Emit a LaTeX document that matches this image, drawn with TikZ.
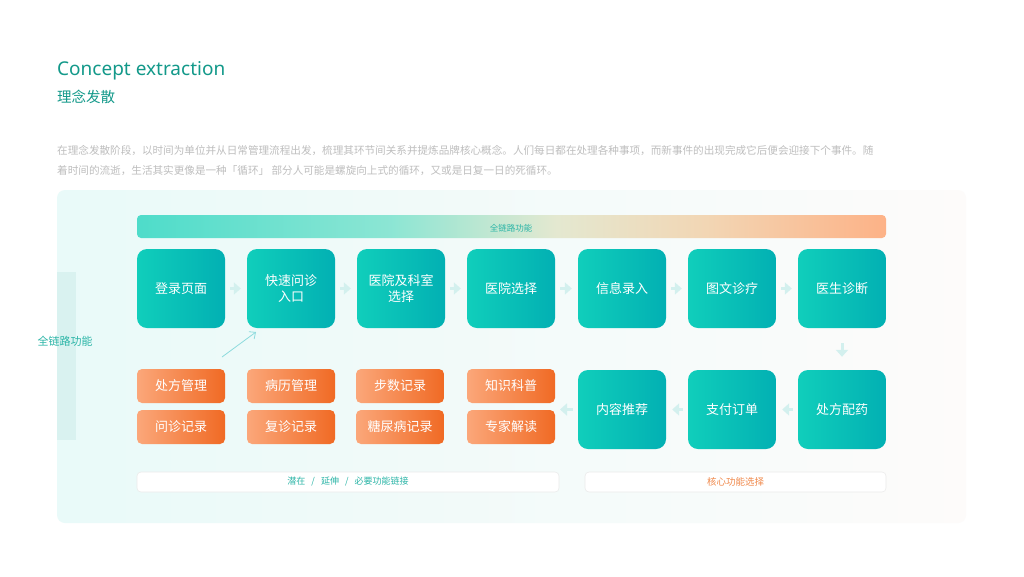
\documentclass[tikz,border=0pt]{standalone}
\usepackage{fontspec}
\setmainfont{Noto Sans CJK SC}
\newfontfamily\latinfont{Noto Sans}
\usetikzlibrary{arrows.meta,positioning,calc}
\definecolor{cteal}{RGB}{19,153,138}
\definecolor{tealL}{RGB}{16,206,187}
\definecolor{tealR}{RGB}{2,176,179}
\definecolor{orgL}{RGB}{251,167,122}
\definecolor{orgR}{RGB}{240,106,36}
\definecolor{panelL}{RGB}{233,250,249}
\definecolor{panelR}{RGB}{253,251,250}
\definecolor{cgray}{RGB}{190,190,190}
\definecolor{cchev}{RGB}{200,236,234}
\definecolor{cnote}{RGB}{43,181,167}
\definecolor{corg}{RGB}{240,136,74}
\pgfdeclarehorizontalshading{barshade}{100bp}{rgb(0bp)=(0.306,0.863,0.792); rgb(25bp)=(0.306,0.863,0.792);
  rgb(42bp)=(0.55,0.90,0.83); rgb(53bp)=(0.894,0.910,0.816); rgb(63bp)=(0.949,0.839,0.706);
  rgb(75bp)=(0.992,0.698,0.529); rgb(100bp)=(0.992,0.698,0.529)}

\begin{document}
\begin{tikzpicture}[x=1pt,y=-1pt,
    stage/.style={rounded corners=10pt, left color=tealL, right color=tealR,
      minimum width=88pt, minimum height=79pt, inner sep=0pt, align=center,
      text=white, font=\fontsize{13}{16}\selectfont},
    tag/.style={rounded corners=5pt, left color=orgL, right color=orgR,
      minimum width=88pt, minimum height=34pt, inner sep=0pt,
      text=white, font=\fontsize{13}{16}\selectfont},
    note/.style={rounded corners=4pt, fill=white, draw=black!8, line width=0.6pt,
      minimum height=20pt, inner sep=0pt},
    flow/.style={draw=cchev!80, line width=3pt, shorten <=5pt, shorten >=6pt,
      -{Triangle[width=12pt,length=7pt]}}]
    \useasboundingbox[fill=white] (0,0) rectangle (1024,576);
    % heading
    \node[anchor=base west, inner sep=0pt, text=cteal, font=\latinfont\fontsize{19}{22}\selectfont]
      (title) at (57,75) {Concept extraction};
    \node[anchor=base west, inner sep=0pt, text=cteal, font=\fontsize{14.5}{17}\selectfont]
      (subtitle) at (57,102) {理念发散};
    \node[anchor=north west, inner sep=0pt, align=left, text=cgray, font=\fontsize{10.6}{20}\selectfont]
      (intro) at (57,145) {在理念发散阶段，以时间为单位并从日常管理流程出发，梳理其环节间关系并提炼品牌核心概念。人们每日都在处理各种事项，而新事件的出现完成它后便会迎接下个事件。随\\
      着时间的流逝，生活其实更像是一种「循环」 部分人可能是螺旋向上式的循环，又或是日复一日的死循环。};

    % panel
    \shade[rounded corners=8pt, left color=panelL, right color=panelR] (57,190) rectangle (966,523);
    \fill[fill=cchev!70] (57,272) rectangle (76,440);
    \node[text=cnote, font=\fontsize{11}{13}\selectfont] (side) at (65,341) {全链路功能};

    % top bar
    \shade[rounded corners=4pt, shading=barshade] (137,215) rectangle (886,238);
    \node[text=cnote, font=\fontsize{8.5}{10}\selectfont] (bar) at (511,228) {全链路功能};

    % main flow
    \node[stage] (login) at (181,288.5) {登录页面};
    \node[stage] (quick) at (291,288.5) {快速问诊\\入口};
    \node[stage] (dept) at (401,288.5) {医院及科室\\选择};
    \node[stage] (hosp) at (511,288.5) {医院选择};
    \node[stage] (info) at (622,288.5) {信息录入};
    \node[stage] (consult) at (732,288.5) {图文诊疗};
    \node[stage] (diag) at (842,288.5) {医生诊断};
    \node[stage] (drug) at (842,409.5) {处方配药};
    \node[stage] (pay) at (732,409.5) {支付订单};
    \node[stage] (recommend) at (622,409.5) {内容推荐};

    % extra functions
    \node[tag] (rx) at (181,386) {处方管理};
    \node[tag] (record) at (291,386) {病历管理};
    \node[tag] (steps) at (400,386) {步数记录};
    \node[tag] (know) at (511,386) {知识科普};
    \node[tag] (inq) at (181,427) {问诊记录};
    \node[tag] (revisit) at (291,427) {复诊记录};
    \node[tag] (sugar) at (400,427) {糖尿病记录};
    \node[tag] (expert) at (511,427) {专家解读};

    % legends
    \node[note, minimum width=422pt, text=cnote, font=\fontsize{9}{11}\selectfont] (potential) at (348,482)
      {潜在\hspace{6pt}/\hspace{6pt}延伸\hspace{6pt}/\hspace{6pt}必要功能链接};
    \node[note, minimum width=301pt, text=corg, font=\fontsize{9.5}{11}\selectfont] (core) at (735.5,482) {核心功能选择};

    % arrows
    \draw[flow] (login) -- (quick);
    \draw[flow] (quick) -- (dept);
    \draw[flow] (dept) -- (hosp);
    \draw[flow] (hosp) -- (info);
    \draw[flow] (info) -- (consult);
    \draw[flow] (consult) -- (diag);
    \draw[flow, shorten <=15pt, shorten >=13pt] (diag) -- (drug);
    \draw[flow] (drug) -- (pay);
    \draw[flow] (pay) -- (recommend);
    \coordinate (extra) at (556,409.5);
    \draw[flow, shorten >=4pt] (recommend) -- (extra);
    \coordinate (riseA) at (222,357);
    \coordinate (riseB) at (256,332);
    \draw[draw=tealR!45, line width=0.8pt, -{Straight Barb[width=9pt,length=5pt]}] (riseA) -- (riseB);
\end{tikzpicture}
\end{document}
